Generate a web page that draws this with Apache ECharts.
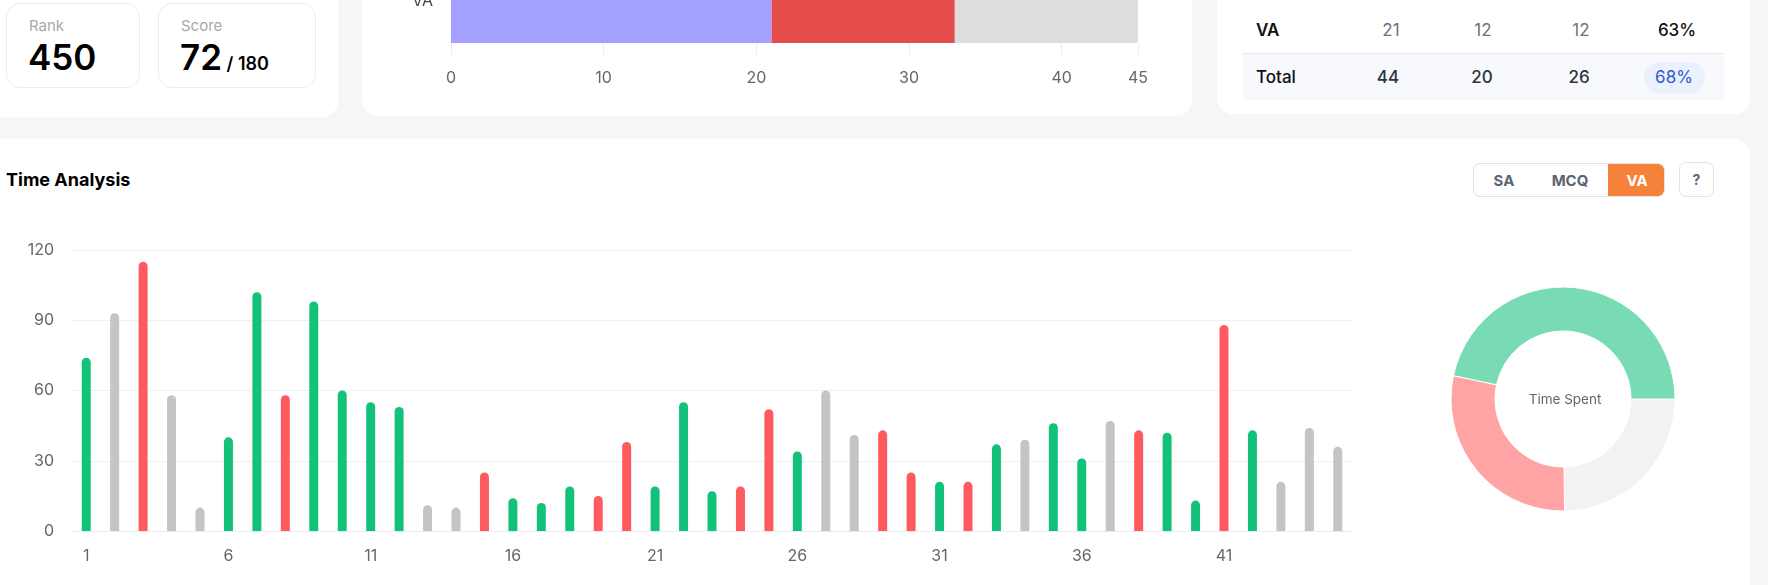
<!DOCTYPE html>
<html>
<head>
<meta charset="utf-8">
<script src="https://cdn.jsdelivr.net/npm/echarts@6/dist/echarts.min.js"></script>
<style>
  html,body{margin:0;padding:0;}
  body{width:1768px;height:585px;overflow:hidden;background:#f6f6f6;position:relative;font-family:Inter,"Noto Sans",sans-serif;}
  .card{position:absolute;background:#fff;border-radius:16px;}
  .box{position:absolute;background:#fff;border:1px solid #ececec;border-radius:14px;box-sizing:border-box;}
  .t{position:absolute;white-space:nowrap;}
  .c{position:absolute;width:80px;text-align:center;white-space:nowrap;}
</style>
</head>
<body>
<!-- top-left card -->
<div class="card" style="left:-20px;top:-20px;width:358px;height:137px;"></div>
<div class="box" style="left:6px;top:3px;width:134px;height:85px;"></div>
<div class="box" style="left:158px;top:3px;width:158px;height:85px;"></div>
<div class="t" style="left:29px;top:16px;font-size:15px;color:#a8a8a8;">Rank</div>
<div class="t" style="left:28px;top:36px;font-size:35px;font-weight:600;color:#000;">450</div>
<div class="t" style="left:181px;top:16px;font-size:15px;color:#a8a8a8;">Score</div>
<div class="t" style="left:180px;top:36px;font-size:35px;font-weight:600;color:#000;">72<span style="font-size:18px;font-weight:600;"> / 180</span></div>

<!-- top-middle card -->
<div class="card" style="left:362px;top:-20px;width:830px;height:136px;"></div>
<div id="stack" style="position:absolute;left:362px;top:-100px;width:830px;height:216px;"></div>

<!-- top-right card -->
<div class="card" style="left:1217px;top:-20px;width:533px;height:134px;"></div>
<div style="position:absolute;left:1243px;top:53px;width:481px;height:1px;background:#e6e8eb;"></div>
<div style="position:absolute;left:1243px;top:54px;width:481px;height:46px;background:#f7f9fc;"></div>
<div style="position:absolute;left:1644px;top:62px;width:61px;height:31px;background:#eaf1fd;border-radius:16px;"></div>
<div class="t" style="left:1256px;top:20px;font-size:17px;font-weight:600;color:#111;">VA</div>
<div class="c" style="left:1351px;top:20px;font-size:17px;color:#6b7280;">21</div>
<div class="c" style="left:1443px;top:20px;font-size:17px;color:#6b7280;">12</div>
<div class="c" style="left:1541px;top:20px;font-size:17px;color:#6b7280;">12</div>
<div class="c" style="left:1637px;top:20px;font-size:17px;font-weight:500;color:#111;">63%</div>
<div class="t" style="left:1256px;top:67px;font-size:17px;font-weight:500;color:#111;">Total</div>
<div class="c" style="left:1348px;top:67px;font-size:17px;font-weight:500;color:#2d3440;">44</div>
<div class="c" style="left:1442px;top:67px;font-size:17px;font-weight:500;color:#2d3440;">20</div>
<div class="c" style="left:1539px;top:67px;font-size:17px;font-weight:500;color:#2d3440;">26</div>
<div class="c" style="left:1634px;top:67px;font-size:17px;font-weight:400;color:#2f5bd0;">68%</div>

<!-- main card -->
<div class="card" style="left:-20px;top:139px;width:1770px;height:470px;"></div>
<div class="t" style="left:6px;top:169px;font-size:18px;font-weight:700;color:#000;">Time Analysis</div>
<div style="position:absolute;left:1473px;top:163px;width:192px;height:34px;border:1px solid #e3e3e3;border-radius:7px;box-sizing:border-box;overflow:hidden;">
  <div style="position:absolute;left:134px;top:0;width:58px;height:34px;background:#f5813a;"></div>
  <div class="c" style="left:-10px;top:7px;font-size:15px;font-weight:700;color:#5c6470;">SA</div>
  <div class="c" style="left:56px;top:7px;font-size:15px;font-weight:700;color:#5c6470;">MCQ</div>
  <div class="c" style="left:123px;top:7px;font-size:15px;font-weight:700;color:#fff;">VA</div>
</div>
<div style="position:absolute;left:1679px;top:162px;width:35px;height:35px;border:1px solid #e3e3e3;border-radius:7px;box-sizing:border-box;text-align:center;line-height:33px;font-size:14px;font-weight:700;color:#5c6470;">?</div>
<div id="time" style="position:absolute;left:0;top:139px;width:1400px;height:446px;"></div>
<div id="donut" style="position:absolute;left:1400px;top:260px;width:330px;height:280px;"></div>

<script>
// ---- data ----
const stackCategories = ['VA'];
const stackCorrect = [21];
const stackIncorrect = [12];
const stackUnattempted = [12];
const stackTicksMax = 45;

const questionNumbers = [];
for (let i = 1; i <= 45; i++) questionNumbers.push(String(i));
const timeSpentSec = [74, 93, 115, 58, 10, 40, 102, 58, 98, 60,
                      55, 53, 11, 10, 25, 14, 12, 19, 15, 38,
                      19, 55, 17, 19, 52, 34, 60, 41, 43, 25,
                      21, 21, 37, 39, 46, 31, 47, 43, 42, 13,
                      88, 43, 21, 44, 36];
// c = correct, i = incorrect, u = unattempted
const questionStatus = ['c','u','i','u','u','c','c','i','c','c',
                        'c','c','u','u','i','c','c','c','i','i',
                        'c','c','c','i','i','c','u','u','i','i',
                        'c','i','c','u','c','c','u','i','c','c',
                        'i','c','u','u','u'];
const donutLabels = ['Unattempted', 'Incorrect', 'Correct'];
const donutValues = [470, 542, 885];

const FONT = 'Inter';
const statusColor = { c: '#12c27b', i: '#ff5a5f', u: '#c4c4c4' };
const donutColors = ['#f2f2f2', '#ffa3a4', '#79dbb4'];

// ---- stacked bar (top) ----
const stack = echarts.init(document.getElementById('stack'), null, { renderer: 'canvas' });
stack.setOption({
  animation: false,
  grid: { left: 89, right: 54, top: 60, bottom: 73, containLabel: false, outerBoundsMode: 'none' },
  xAxis: {
    type: 'value', min: 0, max: stackTicksMax, interval: 10,
    axisLine: { show: false },
    axisTick: { show: true, length: 12, lineStyle: { color: '#ebebeb' } },
    splitLine: { show: false },
    axisLabel: { color: '#666', fontSize: 16, fontFamily: FONT, margin: 27 }
  },
  yAxis: {
    type: 'category', data: stackCategories,
    axisLine: { show: false }, axisTick: { show: false },
    axisLabel: { color: '#444', fontSize: 16, fontFamily: FONT, margin: 18 }
  },
  series: [
    { type: 'bar', stack: 's', barWidth: '100%', data: stackCorrect, itemStyle: { color: '#a3a0ff' } },
    { type: 'bar', stack: 's', barWidth: '100%', data: stackIncorrect, itemStyle: { color: '#e54c4c' } },
    { type: 'bar', stack: 's', barWidth: '100%', data: stackUnattempted, itemStyle: { color: '#dedede' } }
  ]
});

// ---- time analysis bars ----
const time = echarts.init(document.getElementById('time'), null, { renderer: 'canvas' });
time.setOption({
  animation: false,
  grid: { left: 72, right: 48, top: 111, bottom: 54, containLabel: false, outerBoundsMode: 'none' },
  xAxis: {
    type: 'category', data: questionNumbers,
    axisLine: { show: true, lineStyle: { color: '#ececec' } },
    axisTick: { show: false },
    axisLabel: { interval: 4, color: '#666', fontSize: 16, fontFamily: FONT, margin: 17 }
  },
  yAxis: {
    type: 'value', min: 0, max: 120, interval: 30,
    axisLine: { show: false }, axisTick: { show: false },
    splitLine: { lineStyle: { color: '#f0f0f0' } },
    axisLabel: { color: '#666', fontSize: 16, fontFamily: FONT, margin: 18 }
  },
  series: [{
    type: 'bar', barWidth: 9,
    data: timeSpentSec.map((v, k) => ({ value: v, itemStyle: { color: statusColor[questionStatus[k]], borderRadius: [5, 5, 0, 0] } }))
  }]
});

// ---- donut ----
const donut = echarts.init(document.getElementById('donut'), null, { renderer: 'canvas' });
donut.setOption({
  animation: false,
  title: { text: 'Time Spent', left: 'center', top: 'middle',
    textStyle: { fontSize: 13.5, fontWeight: 'normal', color: '#666', fontFamily: FONT } },
  series: [{
    type: 'pie', center: [163, 139], radius: [68, 112],
    startAngle: 0, clockwise: true,
    label: { show: false }, labelLine: { show: false },
    itemStyle: { borderColor: '#fff', borderWidth: 1 },
    data: donutLabels.map((n, k) => ({ name: n, value: donutValues[k], itemStyle: { color: donutColors[k] } }))
  }]
});
</script>
</body>
</html>
